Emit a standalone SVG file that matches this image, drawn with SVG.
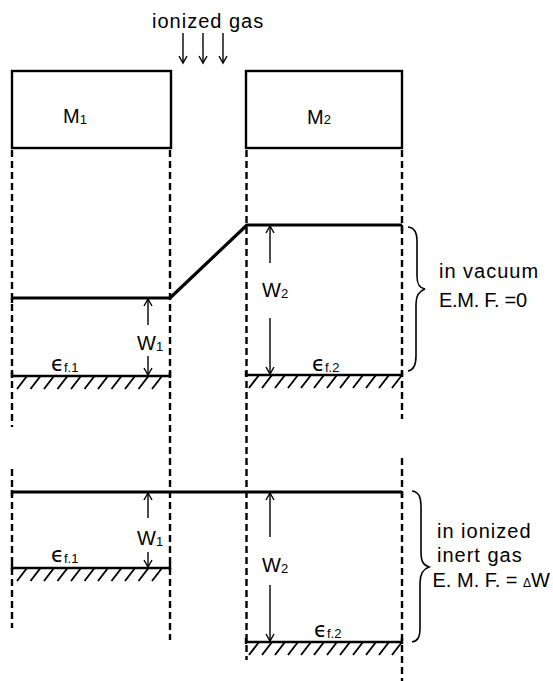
<svg xmlns="http://www.w3.org/2000/svg" xmlns:xlink="http://www.w3.org/1999/xlink" width="553" height="681" viewBox="0 0 553 681">
<style>
  .box{fill:#fff;stroke:#000;stroke-width:2.4}
  .dash{fill:none;stroke:#000;stroke-width:2.4;stroke-dasharray:7 4}
  .level{fill:none;stroke:#000;stroke-width:3.2;stroke-linejoin:round}
  .fermi{fill:none;stroke:#000;stroke-width:2.4}
  .hatch{fill:none;stroke:#000;stroke-width:1.9}
  .arrow{fill:none;stroke:#000;stroke-width:1.4;marker-end:url(#head)}
  .brace{fill:none;stroke:#000;stroke-width:1.6}
  .t{font-family:"Liberation Sans",Arial,sans-serif;font-size:20px;fill:#000}
  .ls{letter-spacing:1px}
  .sub{font-size:13px}
  .eps{font-family:"DejaVu Sans","Liberation Sans",sans-serif;font-size:21px}
</style>
<defs>
  <marker id="head" markerUnits="userSpaceOnUse" markerWidth="10" markerHeight="10" viewBox="-8 -5 9 10" refX="0" refY="0" orient="auto">
    <path d="M-7,-4 L0,0 L-7,4" fill="none" stroke="#000" stroke-width="1.4"/>
  </marker>
  <path id="hatch1" class="hatch" d="M17 13l10-13M30.5 13l10-13M44 13l10-13M57.5 13l10-13M71 13l10-13M84.5 13l10-13M98 13l10-13M111.5 13l10-13M125 13l10-13M138.5 13l10-13M152 13l10-13"/>
  <path id="hatch2" class="hatch" d="M249 13l10-13M262 13l10-13M275 13l10-13M288 13l10-13M301 13l10-13M314 13l10-13M327 13l10-13M340 13l10-13M353 13l10-13M366 13l10-13M379 13l10-13M392 13l10-13"/>
</defs>

<g id="guides">
  <path class="dash" d="M12 150V427M12 469V628"/>
  <path class="dash" d="M170 150V640"/>
  <path class="dash" d="M246.5 150V660"/>
  <path class="dash" d="M402 150V419M402 458V681"/>
</g>

<g id="box-m1">
  <rect class="box" x="12" y="71" width="159" height="77"/>
  <text class="t" x="63" y="123">M<tspan class="sub" font-size="14" dy="1">1</tspan></text>
</g>
<g id="box-m2">
  <rect class="box" x="246" y="71" width="156" height="77"/>
  <text class="t" x="307" y="124">M<tspan class="sub" font-size="15">2</tspan></text>
</g>

<g id="label-ionized-gas">
  <text class="t ls" x="152" y="28">ionized gas</text>
</g>

<g id="vacuum-levels">
  <path class="level" d="M12 298H170L247 225H402"/>
  <path class="fermi" d="M12 298v5M402 225v6"/>
  <path class="fermi" d="M12 376H170M12 372v6M170 372v6"/>
  <use xlink:href="#hatch1" y="376"/>
  <path class="fermi" d="M246 375H402M246 371v6M402 371v6"/>
  <use xlink:href="#hatch2" y="375"/>
</g>

<g id="ionized-levels">
  <path class="level" d="M12 492H402"/>
  <path class="fermi" d="M12 490v6M402 492v6"/>
  <path class="fermi" d="M12 568H170M12 564v6M170 564v6"/>
  <use xlink:href="#hatch1" y="568"/>
  <path class="fermi" d="M246 642H402M246 638v6M402 638v6"/>
  <use xlink:href="#hatch2" y="642"/>
</g>

<g id="labels">
  <text class="t" x="137" y="350">W<tspan class="sub" dy="1">1</tspan></text>
  <text class="t" x="262" y="297">W<tspan class="sub" font-size="15" dy="1">2</tspan></text>
  <text class="t" x="137" y="545">W<tspan class="sub" dy="1">1</tspan></text>
  <text class="t" x="262" y="572">W<tspan class="sub" font-size="15" dy="1">2</tspan></text>
  <text class="t" x="51" y="371"><tspan class="eps">ϵ</tspan><tspan class="sub" font-size="14" dy="1">f.1</tspan></text>
  <text class="t" x="312" y="371"><tspan class="eps">ϵ</tspan><tspan class="sub" font-size="14" dy="1">f.2</tspan></text>
  <text class="t" x="51" y="562"><tspan class="eps">ϵ</tspan><tspan class="sub" font-size="14" dy="1">f.1</tspan></text>
  <text class="t" x="314" y="637"><tspan class="eps">ϵ</tspan><tspan class="sub" font-size="14" dy="1">f.2</tspan></text>
</g>

<g id="connectors">
  <path class="arrow" d="M183 33V63"/>
  <path class="arrow" d="M203 33V63"/>
  <path class="arrow" d="M223 33V63"/>
  <path class="arrow" d="M148 325V299"/>
  <path class="arrow" d="M148 356V375"/>
  <path class="arrow" d="M270 263V226"/>
  <path class="arrow" d="M270 318V374"/>
  <path class="arrow" d="M148 518V493"/>
  <path class="arrow" d="M148 552V567"/>
  <path class="arrow" d="M270 537V493"/>
  <path class="arrow" d="M270 585V641"/>
</g>

<g id="brace-vacuum">
  <path class="brace" d="M408 227C415 228 417 233 417 242L417 276C417 284 419 288 425 289C419 291 416 296 416 304L416 356C416 365 414 370 408 371"/>
  <text class="t ls" x="439" y="278">in vacuum</text>
  <text class="t" x="439" y="307" textLength="88" lengthAdjust="spacing">E.M. F. =0</text>
</g>

<g id="brace-ionized">
  <path class="brace" d="M412 491C419 492 421 497 421 507L421 552C421 561 423 565 429 567C423 569 420 574 420 583L420 628C420 637 418 641 412 642"/>
  <text class="t ls" x="437" y="538">in ionized</text>
  <text class="t" x="437" y="562" letter-spacing="1">inert  gas</text>
  <text class="t" x="550" y="587" font-size="18" text-anchor="end">E. M. F. = <tspan font-size="12">Δ</tspan>W</text>
</g>
</svg>
